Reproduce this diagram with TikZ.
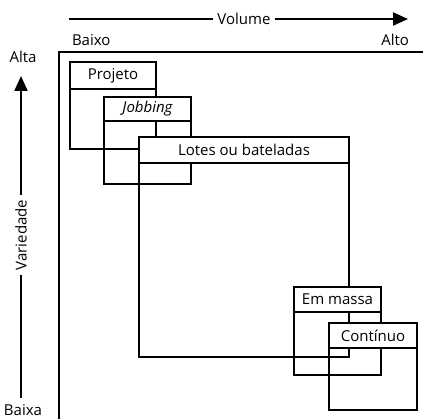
\documentclass[tikz,border=0pt]{standalone}
\usepackage{fontspec}
\setmainfont{Open Sans}
\usetikzlibrary{arrows.meta}
\tikzset{
  boxline/.style={line width=2.9pt, line join=miter},
  hdr/.style={draw, line width=2.9pt, fill=white, anchor=north west, inner sep=0pt, outer sep=0pt, font=\fontsize{15}{18}\selectfont},
  axis/.style={line width=2.1pt},
  lbl/.style={inner sep=0pt, outer sep=0pt, font=\fontsize{15}{18}\selectfont},
  tip/.style={-{Triangle[length=15pt,width=13pt]}}
}
\begin{document}
\begin{tikzpicture}[x=1pt,y=-1pt]
\useasboundingbox (0,0) rectangle (423,419);
% axes
\coordinate (hs) at (69,19);
\coordinate (he) at (408,19);
\node[lbl, fill=white, inner xsep=4pt] (vol) at (244,19) {Volume};
\draw[axis] (hs) -- (vol.west);
\draw[axis, tip] (vol.east) -- (he);
\coordinate (vs) at (21,398);
\coordinate (ve) at (21,76);
\node[lbl, rotate=90, inner xsep=5pt] (var) at (21,235) {Variedade};
\draw[axis] (vs) -- (var.west);
\draw[axis, tip] (var.east) -- (ve);
\node[lbl, anchor=base west] (baixo) at (72,46) {Baixo};
\node[lbl, anchor=base east] (alto) at (409,46) {Alto};
\node[lbl, anchor=base] (alta) at (23,63) {Alta};
\node[lbl, anchor=base] (baixa) at (23,416) {Baixa};
% frame
\draw[line width=2.3pt] (59,425) -- (59,52) -- (430,52);
% Projeto
\draw[boxline] (70,62) rectangle (156,149);
\node[hdr, minimum width=86pt, minimum height=27pt] (projeto) at (70,62) {Projeto};
% Jobbing
\draw[boxline] (104,97) rectangle (191,184);
\node[hdr, minimum width=87pt, minimum height=24pt] (jobbing) at (104,97) {\itshape Jobbing};
% Lotes
\draw[boxline] (139,137) rectangle (349,357);
\node[hdr, minimum width=210pt, minimum height=26pt] (lotes) at (139,137) {Lotes ou bateladas};
% Em massa
\draw[boxline] (294,287) rectangle (381,375);
\node[hdr, minimum width=87pt, minimum height=25pt] (massa) at (294,287) {Em massa};
% Continuo
\draw[boxline] (329,323) rectangle (417,410);
\node[hdr, minimum width=88pt, minimum height=25pt] (continuo) at (329,323) {Contínuo};
\end{tikzpicture}
\end{document}
